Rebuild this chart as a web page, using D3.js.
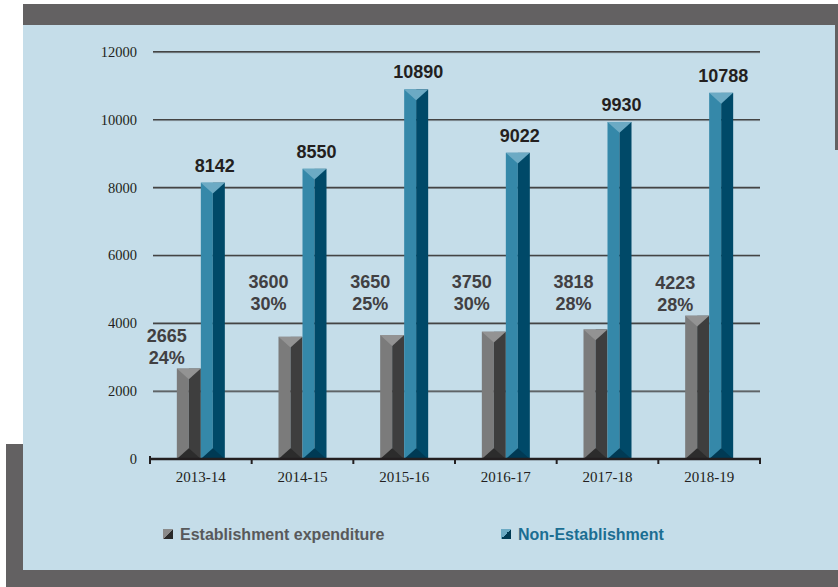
<!DOCTYPE html>
<html><head><meta charset="utf-8">
<script src="https://cdn.jsdelivr.net/npm/d3@7"></script>
<style>html,body{margin:0;padding:0;background:#fff;}svg{display:block;}</style>
</head><body>
<svg id="chart" width="838" height="587"></svg>
<script>
const categories = ["2013-14","2014-15","2015-16","2016-17","2017-18","2018-19"];
const establishment = [2665,3600,3650,3750,3818,4223];
const establishmentPct = ["24%","30%","25%","30%","28%","28%"];
const nonEstablishment = [8142,8550,10890,9022,9930,10788];
const yTicks = [0,2000,4000,6000,8000,10000,12000];
const seriesNames = ["Establishment expenditure","Non-Establishment"];

const svg = d3.select("#chart");
const dark = "#636162", panel = "#c5dde9";
// frame
svg.append("rect").attr("x",23).attr("y",4).attr("width",815).attr("height",21).attr("fill",dark);
svg.append("rect").attr("x",23).attr("y",25).attr("width",815).attr("height",545).attr("fill",panel);
svg.append("rect").attr("x",835).attr("y",25).attr("width",3).attr("height",125).attr("fill",dark);
svg.append("rect").attr("x",6).attr("y",444).attr("width",17).attr("height",143).attr("fill",dark);
svg.append("rect").attr("x",6).attr("y",570).attr("width",832).attr("height",17).attr("fill",dark);

const x = d3.scaleBand().domain(categories).range([150,760]).padding(0);
const x1 = d3.scaleBand().domain(seriesNames).range([0,x.bandwidth()]).paddingInner(0).paddingOuter(1.118);
const y = d3.scaleLinear().domain([0,12000]).range([459,51.7]);

// gridlines
const grid = svg.append("g");
yTicks.filter(t=>t>0).forEach(t=>{
  grid.append("line").attr("x1",153).attr("x2",760).attr("y1",y(t)+1).attr("y2",y(t)+1).attr("stroke","#8d9aa2").attr("stroke-width",1);
  grid.append("line").attr("x1",153).attr("x2",760).attr("y1",y(t)).attr("y2",y(t)).attr("stroke","#444").attr("stroke-width",1.4);
});
// y labels
svg.append("g").selectAll("text").data(yTicks).join("text")
  .attr("x",137).attr("y",d=>y(d)).attr("dy","0.35em").attr("text-anchor","end")
  .attr("font-family","Liberation Serif, serif").attr("font-size","14.5px").attr("fill","#231f20")
  .text(d=>d);

const palettes = [
  {left:"#7b7b7b", right:"#3e3e3e", top:"#939393", bottom:"#2c2c2c"},
  {left:"#3588a9", right:"#004968", top:"#6caac4", bottom:"#003a54"}
];
function drawBar(g, x0, w, v, pal){
  const yt = y(v), yb = y(0), xm = x0 + w/2, bev = w*0.45;
  g.append("rect").attr("x",x0).attr("y",yt).attr("width",w/2).attr("height",yb-yt).attr("fill",pal.left);
  g.append("rect").attr("x",xm).attr("y",yt).attr("width",w/2).attr("height",yb-yt).attr("fill",pal.right);
  g.append("path").attr("d",`M${x0},${yt}L${x0+w},${yt}L${xm},${yt+bev}Z`).attr("fill",pal.top);
  g.append("path").attr("d",`M${x0},${yb}L${x0+w},${yb}L${xm},${yb-bev}Z`).attr("fill",pal.bottom);
}
const bars = svg.append("g");
categories.forEach((c,i)=>{
  drawBar(bars, x(c)+x1(seriesNames[0]), x1.bandwidth(), establishment[i], palettes[0]);
  drawBar(bars, x(c)+x1(seriesNames[1]), x1.bandwidth(), nonEstablishment[i], palettes[1]);
});

// x axis
const ax = svg.append("g");
ax.append("line").attr("x1",150).attr("x2",761).attr("y1",y(0)).attr("y2",y(0)).attr("stroke","#231f20").attr("stroke-width",2.5);
const tickXs = categories.map(c=>x(c)).concat([x.range()[1]]);
ax.selectAll("line.t").data(tickXs).join("line").attr("class","t")
  .attr("x1",d=>d).attr("x2",d=>d).attr("y1",(d,i)=>i===0?y(0)-3:y(0)).attr("y2",y(0)+5)
  .attr("stroke","#231f20").attr("stroke-width",2);
ax.selectAll("text").data(categories).join("text")
  .attr("x",d=>x(d)+x.bandwidth()/2).attr("y",482).attr("text-anchor","middle")
  .attr("font-family","Liberation Serif, serif").attr("font-size","15px").attr("fill","#231f20")
  .text(d=>d);

// value labels
const lab = svg.append("g").attr("font-family","Liberation Sans, Arial, sans-serif").attr("font-weight","bold").attr("font-size","18px");
categories.forEach((c,i)=>{
  const bx = x(c)+x1(seriesNames[1])+x1.bandwidth()/2+2;
  lab.append("text").attr("x",bx).attr("y",y(nonEstablishment[i])-11).attr("text-anchor","middle").attr("fill","#231f20").text(nonEstablishment[i]);
  const gx = x(c)+x.bandwidth()/2-34;
  let base = y(establishment[i]) - 5;
  // lift the two-line label above a gridline it would cross
  yTicks.forEach(t=>{ if (t>0 && y(t) > base-36 && y(t) < base+3) base = y(t) - 13; });
  lab.append("text").attr("x",gx).attr("y",base-22).attr("text-anchor","middle").attr("fill","#414042").text(establishment[i]);
  lab.append("text").attr("x",gx).attr("y",base).attr("text-anchor","middle").attr("fill","#414042").text(establishmentPct[i]);
});

// legend
const defs = svg.append("defs");
[["lg0","#8a8a8a","#2a2a2a"],["lg1","#6caac4","#003a54"]].forEach(([id,a,b])=>{
  const g = defs.append("linearGradient").attr("id",id).attr("x1","0").attr("y1","0").attr("x2","1").attr("y2","1");
  g.append("stop").attr("offset","0.5").attr("stop-color",a);
  g.append("stop").attr("offset","0.5").attr("stop-color",b);
});
const legendItems = [{x:163, color:"#58595b", grad:"lg0"},{x:501, color:"#1b6e92", grad:"lg1"}];
const leg = svg.append("g");
legendItems.forEach((it,i)=>{
  leg.append("rect").attr("x",it.x).attr("y",529).attr("width",10).attr("height",10).attr("fill",`url(#${it.grad})`);
  leg.append("text").attr("x",it.x+17).attr("y",540)
    .attr("font-family","Liberation Sans, Arial, sans-serif").attr("font-weight","bold").attr("font-size","16px")
    .attr("fill",it.color).text(seriesNames[i]);
});
</script>
</body></html>
